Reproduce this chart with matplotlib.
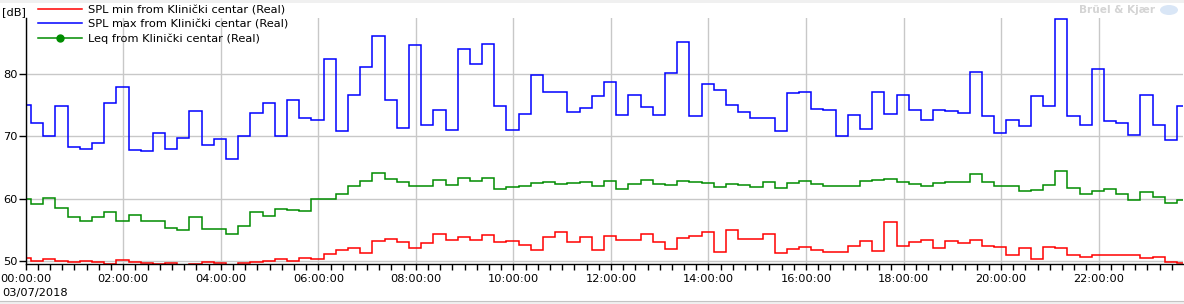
import numpy as np
import matplotlib
matplotlib.use("Agg")
import matplotlib.pyplot as plt
from matplotlib.lines import Line2D
from matplotlib.legend_handler import HandlerLine2D
from matplotlib.patches import Rectangle, Ellipse

# 15 minute values, first interval starts 23:51:30 the day before
first_start_h = -8.5 / 60
step_h = 0.25

spl_min = [50.6, 50.1, 50.4, 50.1, 49.85, 50.1, 49.85, 49.6, 50.3, 49.95, 49.8, 49.65,
           49.8, 49.3, 49.65, 49.95, 49.8, 49.3, 49.8, 49.95, 50.1, 50.4, 50.1, 50.6,
           50.35, 51.15, 51.8, 52.1, 51.3, 53.2, 53.6, 53.1, 52.2, 53.0, 54.4, 53.5,
           53.9, 53.5, 54.25, 53.1, 53.3, 52.65, 51.9, 53.9, 54.7, 53.1, 53.9, 51.9,
           54.1, 53.5, 53.5, 54.4, 53.1, 52.0, 53.8, 54.1, 54.7, 51.5, 55.05, 53.6,
           53.6, 54.4, 51.4, 52.0, 52.3, 51.9, 51.5, 51.5, 52.5, 53.3, 51.7, 56.3,
           52.5, 53.1, 53.5, 52.2, 53.3, 53.0, 53.5, 52.5, 52.3, 51.1, 52.2, 50.4,
           52.3, 52.2, 51.1, 50.75, 51.1, 51.1, 51.1, 51.1, 50.6, 50.75, 49.95, 49.7]

spl_max = [75.0, 72.1, 70.05, 74.85, 68.3, 68.0, 69.0, 75.3, 77.9, 67.8, 67.7, 70.5,
           68.0, 69.7, 74.05, 68.6, 69.6, 66.4, 70.0, 73.7, 75.3, 70.0, 75.8, 72.9,
           72.6, 82.4, 70.9, 76.6, 81.1, 86.1, 75.8, 71.3, 84.6, 71.8, 74.3, 71.1,
           84.0, 81.6, 84.8, 74.8, 71.0, 73.6, 79.8, 77.1, 77.1, 73.9, 74.5, 76.4,
           78.7, 73.5, 76.6, 74.7, 73.5, 80.2, 85.1, 73.2, 78.3, 77.4, 75.0, 73.9,
           72.9, 72.9, 70.8, 76.9, 77.1, 74.4, 74.2, 70.0, 73.4, 71.2, 77.1, 73.6,
           76.6, 74.2, 72.6, 74.3, 74.0, 73.7, 80.3, 73.2, 70.5, 72.6, 71.6, 76.4,
           74.8, 88.8, 73.2, 71.8, 80.7, 72.4, 72.1, 70.3, 76.6, 71.8, 69.4, 74.8]

leq = [60.0, 59.25, 60.1, 58.6, 57.1, 56.4, 57.1, 57.9, 56.5, 57.4, 56.4, 56.4,
       55.4, 55.05, 57.1, 55.2, 55.2, 54.4, 55.6, 57.9, 57.3, 58.4, 58.2, 58.1,
       60.0, 60.0, 60.85, 62.1, 62.9, 64.15, 63.2, 62.7, 62.1, 62.1, 63.0, 62.2,
       63.35, 62.9, 63.35, 61.6, 61.9, 62.1, 62.55, 62.7, 62.4, 62.55, 62.7, 62.1,
       62.9, 61.6, 62.4, 63.0, 62.4, 62.2, 62.9, 62.7, 62.55, 61.9, 62.4, 62.2,
       61.9, 62.7, 61.75, 62.55, 62.9, 62.4, 62.1, 62.1, 62.1, 62.9, 63.0, 63.2,
       62.7, 62.4, 62.1, 62.55, 62.7, 62.7, 64.0, 62.7, 62.1, 62.1, 61.3, 61.4,
       62.2, 64.5, 61.75, 60.8, 61.3, 61.6, 60.8, 59.85, 61.1, 60.3, 59.4, 59.85]

series_labels = ["SPL min from Klinički centar (Real)",
                 "SPL max from Klinički centar (Real)",
                 "Leq from Klinički centar (Real)"]
series_colors = ["#ff0000", "#0000ff", "#008c00"]

hour_ticks = list(range(0, 24, 2))
hour_labels = ["%02d:00:00" % h for h in hour_ticks]
db_ticks = [50, 60, 70, 80]
date_label = "03/07/2018"
unit_label = "[dB]"

plt.rcParams["font.family"] = ["DejaVu Sans"]
plt.rcParams["font.size"] = 8.2

W, H = 1184, 304
fig = plt.figure(figsize=(W / 100, H / 100), dpi=100)
ax = fig.add_axes([25.7 / W, 1 - 264 / H, (1183 - 25.7) / W, (264 - 18) / H])

edges = first_start_h + step_h * np.arange(len(spl_max) + 1)
for vals, col in zip([spl_min, spl_max, leq], series_colors):
    ax.stairs(vals, edges, baseline=None, color=col, lw=1.1, zorder=3)

ax.set_xlim(0, 23.73)
ax.set_ylim(49.6, 88.93)
ax.set_xticks(hour_ticks, hour_labels)
ax.set_xticks(np.arange(0, 23.75, 0.25), minor=True)
ax.set_yticks(db_ticks)
ax.grid(True, which="major", color="#c8c8c8", lw=1.0, zorder=0)
for s in ["top", "right"]:
    ax.spines[s].set_visible(False)
for s in ["left", "bottom"]:
    ax.spines[s].set_linewidth(1.0)
    ax.spines[s].set_zorder(4)
ax.tick_params(axis="y", length=5, width=1, pad=1)
ax.tick_params(axis="x", which="both", length=4.5, width=1, pad=3)


# legend marker sits at the left end of the handle line
class HandlerLeftMarker(HandlerLine2D):
    def get_xdata(self, legend, xdescent, ydescent, width, height, fontsize):
        return [-xdescent, width - xdescent], [-xdescent + 2]


handles = [Line2D([], [], color=series_colors[0], lw=1.1),
           Line2D([], [], color=series_colors[1], lw=1.1),
           Line2D([], [], color=series_colors[2], lw=1.1, marker="o", ms=5)]
leg = ax.legend(handles, series_labels, loc="upper left",
                bbox_to_anchor=(38 / W, 1 - 5.3 / H), bbox_transform=fig.transFigure,
                frameon=False, borderpad=0, borderaxespad=0, handlelength=3.86,
                handletextpad=0.5, labelspacing=0.35, numpoints=1,
                handler_map={handles[2]: HandlerLeftMarker(numpoints=1)})

fig.text(2 / W, 1 - 12 / H, unit_label, va="center", ha="left")
fig.text(2 / W, 1 - 293.3 / H, date_label, va="center", ha="left")

# watermark
fig.text(1155 / W, 1 - 10 / H, "Brüel & Kjær", color="#d4d4d4", weight="bold",
         fontsize=7.6, va="center", ha="right")
fig.add_artist(Ellipse((1169 / W, 1 - 10 / H), 18 / W, 10 / H, transform=fig.transFigure,
                       facecolor="#d9e6f6", edgecolor="none"))

# window frame strips
fig.add_artist(Rectangle((0, 1 - 2.5 / H), 1, 2.5 / H, transform=fig.transFigure,
                         facecolor="#f0f0f0", edgecolor="none"))
fig.add_artist(Rectangle((0, 0), 1, 3 / H, transform=fig.transFigure,
                         facecolor="#f0f0f0", edgecolor="none"))
fig.add_artist(Line2D([0, 1], [3 / H, 3 / H], transform=fig.transFigure,
                      color="#c4c4c4", lw=0.8))

fig.savefig("out.png", dpi=100)
